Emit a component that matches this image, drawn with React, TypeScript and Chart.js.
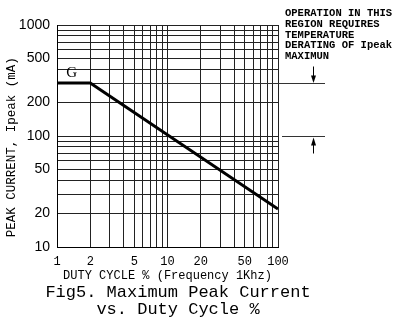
import { useEffect, useRef } from "react";
import { Chart, registerables } from "chart.js";

Chart.register(...registerables);

// ---- data ----
const DUTY_CYCLE = [1, 2, 100]; // %
const PEAK_CURRENT = [300, 300, 22]; // mA
const X_TICK_LABELS = [1, 2, 5, 10, 20, 50, 100];
const Y_TICK_LABELS = [10, 20, 50, 100, 200, 500, 1000];
const X_GRID = [1, 2, 3, 4, 5, 6, 7, 8, 9, 10, 20, 30, 40, 50, 60, 70, 80, 90, 100];
const Y_GRID = [10, 20, 30, 40, 50, 60, 70, 80, 90, 100, 200, 300, 400, 500, 600, 700, 800, 900, 1000];
const CURVE_LABEL = "G";
const CURVE_LABEL_AT = { x: 1.36, y: 370 };
const DERATING_UPPER = 300; // mA
const DERATING_LOWER = 100; // mA
const DERATING_LINE_FROM = 2.6; // duty cycle where the upper marker line begins
const NOTE_LINES = ["OPERATION IN THIS", "REGION REQUIRES", "TEMPERATURE", "DERATING OF Ipeak", "MAXIMUN"];
const TITLE_LINES = ["Fig5. Maximum Peak Current", "vs. Duty Cycle %"];
const X_TITLE = "DUTY CYCLE % (Frequency 1Khz)";
const Y_TITLE = "PEAK CURRENT, Ipeak (mA)   ";

const MONO = '"Liberation Mono", "DejaVu Sans Mono", monospace';

const annotate = {
  id: "annotate",
  afterDraw(chart: any) {
    const { ctx, chartArea } = chart;
    const x = chart.scales.x;
    const y = chart.scales.y;
    ctx.save();
    // curve label
    ctx.fillStyle = "#000";
    ctx.font = '15px "Liberation Serif", serif';
    ctx.textAlign = "center";
    ctx.textBaseline = "middle";
    ctx.fillText(CURVE_LABEL, x.getPixelForValue(CURVE_LABEL_AT.x), y.getPixelForValue(CURVE_LABEL_AT.y));

    // derating marker lines
    const yU = Math.round(y.getPixelForValue(DERATING_UPPER)) + 0.5;
    const yL = Math.round(y.getPixelForValue(DERATING_LOWER)) + 0.5;
    const endX = chartArea.right + 47;
    ctx.strokeStyle = "#333";
    ctx.lineWidth = 1;
    ctx.beginPath();
    ctx.moveTo(x.getPixelForValue(DERATING_LINE_FROM), yU);
    ctx.lineTo(endX, yU);
    ctx.moveTo(chartArea.right + 4, yL);
    ctx.lineTo(endX, yL);
    ctx.stroke();

    // arrows
    const ax = Math.round(chartArea.right + 35) + 0.5;
    ctx.strokeStyle = "#000";
    ctx.beginPath();
    ctx.moveTo(ax, yU - 17);
    ctx.lineTo(ax, yU - 7);
    ctx.moveTo(ax, yL + 7);
    ctx.lineTo(ax, yL + 17);
    ctx.stroke();
    ctx.fillStyle = "#000";
    ctx.beginPath();
    ctx.moveTo(ax - 2.5, yU - 8);
    ctx.lineTo(ax + 2.5, yU - 8);
    ctx.lineTo(ax, yU - 0.5);
    ctx.closePath();
    ctx.fill();
    ctx.beginPath();
    ctx.moveTo(ax - 2.5, yL + 9);
    ctx.lineTo(ax + 2.5, yL + 9);
    ctx.lineTo(ax, yL + 1);
    ctx.closePath();
    ctx.fill();

    // note text
    ctx.font = `bold 10.5px ${MONO}`;
    ctx.textAlign = "left";
    ctx.textBaseline = "middle";
    NOTE_LINES.forEach((line, i) => {
      ctx.fillText(line, chartArea.right + 7, chartArea.top - 11.7 + i * 10.8);
    });
    ctx.restore();
  },
};

export default function App() {
  const ref = useRef<HTMLCanvasElement | null>(null);

  useEffect(() => {
    if (!ref.current) return;
    const chart = new Chart(ref.current, {
      type: "line",
      data: {
        datasets: [
          {
            data: DUTY_CYCLE.map((d, i) => ({ x: d, y: PEAK_CURRENT[i] })),
            borderColor: "#000",
            borderWidth: 3,
            pointRadius: 0,
            fill: false,
            tension: 0,
            xAxisID: "x",
            yAxisID: "y",
          },
        ],
      },
      options: {
        responsive: false,
        maintainAspectRatio: false,
        animation: false,
        layout: { padding: { top: 25, left: 0, right: 38, bottom: 0 } },
        plugins: {
          legend: { display: false },
          tooltip: { enabled: false },
          title: {
            display: true,
            position: "bottom",
            text: TITLE_LINES,
            color: "#000",
            font: { family: MONO, size: 17, lineHeight: 1, weight: "normal" },
            padding: { top: 1, bottom: 7 },
          },
        },
        scales: {
          x: {
            type: "logarithmic",
            position: "bottom",
            min: 1,
            max: 100,
            afterBuildTicks: (s: any) => {
              s.ticks = X_GRID.map((v) => ({ value: v }));
            },
            afterFit: (s: any) => {
              s.height = 36;
            },
            ticks: {
              autoSkip: false,
              maxRotation: 0,
              padding: 8,
              color: "#000",
              font: { family: MONO, size: 12 },
              callback: (v: any) => (X_TICK_LABELS.includes(Number(v)) ? String(v) : ""),
            },
            grid: { color: "#222", lineWidth: 1, drawTicks: false },
            border: { color: "#000", width: 1 },
            title: {
              display: true,
              text: X_TITLE,
              color: "#000",
              font: { family: MONO, size: 12, lineHeight: 1.2 },
              padding: { top: 0, bottom: 0 },
            },
          },
          y: {
            type: "logarithmic",
            position: "left",
            min: 10,
            max: 1000,
            afterBuildTicks: (s: any) => {
              s.ticks = Y_GRID.map((v) => ({ value: v }));
            },
            afterFit: (s: any) => {
              s.width = 57;
            },
            ticks: {
              autoSkip: false,
              padding: 7,
              color: "#000",
              font: { family: '"Liberation Sans", Arial, sans-serif', size: 14 },
              callback: (v: any) => (Y_TICK_LABELS.includes(Number(v)) ? String(v) : ""),
            },
            grid: { color: "#222", lineWidth: 1, drawTicks: false },
            border: { color: "#000", width: 1 },
            title: {
              display: true,
              text: Y_TITLE,
              color: "#000",
              font: { family: MONO, size: 12.5, lineHeight: 1.2 },
              padding: { top: 4, bottom: 0 },
            },
          },
          y2: {
            type: "linear",
            position: "right",
            display: true,
            grid: { display: false },
            ticks: { display: false },
            border: { display: false },
            afterFit: (s: any) => {
              s.width = 78;
            },
          },
        },
      },
      plugins: [annotate],
    } as any);
    return () => chart.destroy();
  }, []);

  return (
    <div style={{ position: "fixed", left: 0, top: 0, width: 394, height: 325, background: "#fff" }}>
      <canvas ref={ref} width={394} height={325} />
    </div>
  );
}
